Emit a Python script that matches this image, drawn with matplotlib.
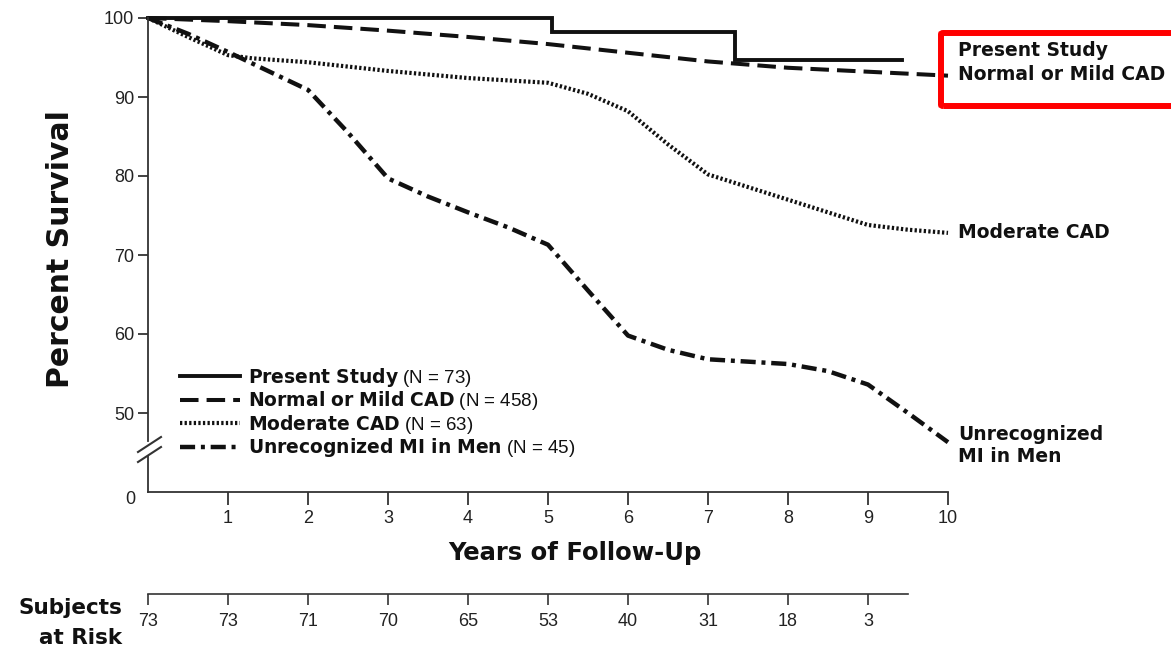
import matplotlib
matplotlib.use("Agg")
import matplotlib.pyplot as plt
from matplotlib.lines import Line2D
from matplotlib.patches import FancyBboxPatch

plt.rcParams['font.family'] = ['Liberation Sans', 'DejaVu Sans']
plt.rcParams['mathtext.fontset'] = 'custom'
plt.rcParams['mathtext.bf'] = 'DejaVu Sans:bold'
plt.rcParams['mathtext.rm'] = 'Liberation Sans'

# ---- data ----
present_x = [0, 5.05, 5.05, 7.34, 7.34, 9.43]
present_y = [100, 100, 98.2, 98.2, 94.7, 94.7]

normal_x = [0, 1, 2, 3, 4, 5, 6, 7, 8, 9, 10]
normal_y = [100, 99.6, 99.1, 98.4, 97.6, 96.7, 95.6, 94.5, 93.7, 93.2, 92.7]

moderate_x = [0, 0.5, 1, 1.3, 2, 3, 4, 5, 5.5, 6, 6.5, 7, 8, 9, 9.5, 10]
moderate_y = [100, 97.6, 95.3, 94.9, 94.4, 93.3, 92.4, 91.8, 90.4, 88.2, 84.0, 80.2, 77.0, 73.8, 73.2, 72.8]

mi_x = [0, 0.5, 1, 1.5, 2, 2.5, 3, 3.5, 4, 4.5, 5, 5.5, 6, 6.5, 7, 7.5, 8, 8.5, 9, 9.5, 10]
mi_y = [100, 98.0, 95.7, 93.3, 90.9, 85.5, 79.7, 77.4, 75.4, 73.5, 71.3, 65.5, 59.8, 58.0, 56.8, 56.5, 56.2, 55.3, 53.6, 50.0, 46.3]

series_names = ['Present Study', 'Normal or Mild CAD', 'Moderate CAD', 'Unrecognized MI in Men']
series_n = [73, 458, 63, 45]

at_risk_years = [0, 1, 2, 3, 4, 5, 6, 7, 8, 9]
at_risk = [73, 73, 71, 70, 65, 53, 40, 31, 18, 3]

x_ticks = [1, 2, 3, 4, 5, 6, 7, 8, 9, 10]
y_ticks = [50, 60, 70, 80, 90, 100]


def legend_label(name, n):
    return r'$\mathbf{' + name.replace(' ', r'\ ') + '}$' + f' (N = {n})'


W, H = 1171, 652
fig = plt.figure(figsize=(W / 100, H / 100), dpi=100)
ax = fig.add_axes([148 / W, 1 - 492 / H, 800 / W, 474 / H])
ax.set_xlim(0, 10)
ax.set_ylim(40, 100)

ink = '#111111'
axcol = '#333333'
BOLD = 'DejaVu Sans'

ax.plot(present_x, present_y, color=ink, lw=2.8, solid_joinstyle='miter',
        clip_on=False, label=legend_label(series_names[0], series_n[0]))
ax.plot(normal_x, normal_y, color=ink, lw=2.9, dashes=(4.6, 2.0),
        clip_on=False, label=legend_label(series_names[1], series_n[1]))
ax.plot(moderate_x, moderate_y, color=ink, lw=3.0, dashes=(0.55, 0.55),
        clip_on=False, label=legend_label(series_names[2], series_n[2]))
ax.plot(mi_x, mi_y, color=ink, lw=3.2, dashes=(3.4, 1.3, 0.9, 1.3),
        clip_on=False, label=legend_label(series_names[3], series_n[3]))

# spines
for s in ['top', 'right']:
    ax.spines[s].set_visible(False)
for s in ['left', 'bottom']:
    ax.spines[s].set_color(axcol)
    ax.spines[s].set_linewidth(1.3)
ax.spines['left'].set_bounds(46.4, 100)
ax.add_line(Line2D([0, 0], [40, 44.6], color=axcol, lw=1.3, clip_on=False))

ax.set_xticks(x_ticks)
ax.set_xticklabels([str(t) for t in x_ticks])
ax.set_yticks(y_ticks)
ax.set_yticklabels([str(t) for t in y_ticks])
ax.tick_params(axis='x', direction='out', length=9, width=1.3, color=axcol,
               pad=4, labelsize=13, labelcolor='#222222')
ax.tick_params(axis='y', direction='out', length=7, width=1.3, color=axcol,
               pad=3, labelsize=13, labelcolor='#222222')
# zero label of the broken axis
ax.text(-0.22, 39.0, '0', ha='center', va='center', fontsize=13, color='#222222')

# break marks
for dy in (0, 10):
    fig.add_artist(Line2D([138 / W, 161 / W],
                          [1 - (462 - dy) / H, 1 - (447 - dy) / H],
                          color=axcol, lw=1.5))

# legend
leg = ax.legend(loc='upper left', bbox_to_anchor=(32 / 800, (492 - 366) / 474),
                frameon=False, fontsize=13.5, handlelength=3.2,
                handletextpad=0.4, labelspacing=0.02, borderpad=0,
                borderaxespad=0)
for t in leg.get_texts():
    t.set_color('#111111')

# right labels
lab_kw = dict(fontsize=13.5, fontweight='bold', family=BOLD, color=ink,
              va='center', ha='left', clip_on=False)
ax.text(10.13, 95.9, 'Present Study', **lab_kw)
ax.text(10.13, 92.8, 'Normal or Mild CAD', **lab_kw)
ax.text(10.13, 72.8, 'Moderate CAD', **lab_kw)
ax.text(10.13, 47.3, 'Unrecognized', **lab_kw)
ax.text(10.13, 44.5, 'MI in Men', **lab_kw)

# red box
fig.add_artist(FancyBboxPatch((941 / W, 1 - 106 / H), 260 / W, 73 / H,
                              boxstyle='round,pad=0,rounding_size=0.002',
                              transform=fig.transFigure, fill=False,
                              edgecolor='#ff0000', lw=4.3))

# axis labels
fig.text(61 / W, 1 - 249 / H, 'Percent Survival', rotation=90, ha='center',
         va='center', fontsize=21.5, fontweight='bold', family=BOLD, color=ink)
fig.text(575 / W, 1 - 553 / H, 'Years of Follow-Up', ha='center', va='center',
         fontsize=17.5, fontweight='bold', family=BOLD, color=ink)

# subjects at risk
ax2 = fig.add_axes([148 / W, 1 - 594 / H, 800 / W, 0.0001])
ax2.set_xlim(0, 10)
ax2.set_ylim(0, 1)
for s in ['top', 'right', 'left']:
    ax2.spines[s].set_visible(False)
ax2.spines['bottom'].set_bounds(0, 9.5)
ax2.spines['bottom'].set_color(axcol)
ax2.spines['bottom'].set_linewidth(1.2)
ax2.set_yticks([])
ax2.set_xticks(at_risk_years)
ax2.set_xticklabels([str(v) for v in at_risk])
ax2.tick_params(axis='x', direction='out', length=8, width=1.2, color=axcol,
                pad=6, labelsize=13, labelcolor='#222222')
ax2.patch.set_visible(False)

fig.text(122 / W, 1 - 608 / H, 'Subjects', ha='right', va='center',
         fontsize=15.5, fontweight='bold', family=BOLD, color=ink)
fig.text(122 / W, 1 - 638 / H, 'at Risk', ha='right', va='center',
         fontsize=15.5, fontweight='bold', family=BOLD, color=ink)

fig.savefig('out.png', dpi=100)
